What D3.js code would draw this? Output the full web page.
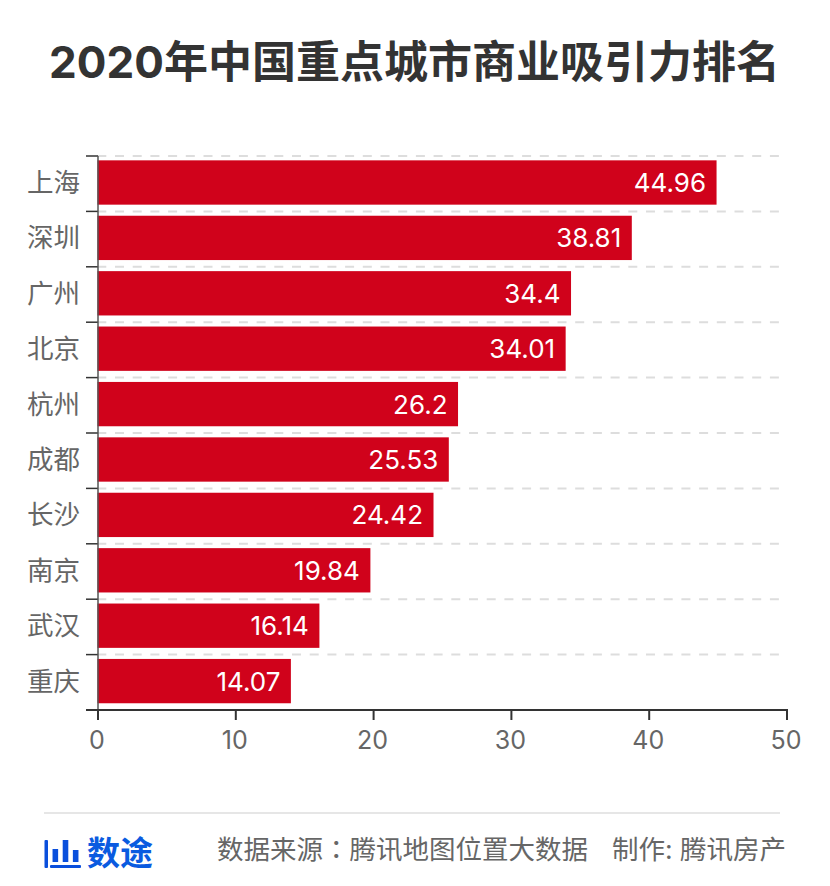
<!DOCTYPE html>
<html>
<head>
<meta charset="utf-8">
<title>2020年中国重点城市商业吸引力排名</title>
<script src="https://cdnjs.cloudflare.com/ajax/libs/d3/7.8.5/d3.min.js"></script>
<style>
html, body { margin: 0; padding: 0; background: #fff; }
text { font-family: Inter, "Noto Sans CJK SC", sans-serif; }
</style>
</head>
<body>
<svg id="chart" width="830" height="886"></svg>
<script>
var cities = ["上海", "深圳", "广州", "北京", "杭州", "成都", "长沙", "南京", "武汉", "重庆"];
var scores = [44.96, 38.81, 34.4, 34.01, 26.2, 25.53, 24.42, 19.84, 16.14, 14.07];
var xTicks = [0, 10, 20, 30, 40, 50];
var logoBars = [13, 22, 12];

var svg = d3.select("#chart");
var left = 98, right = 787, top_ = 156, bottom = 710;

var x = d3.scaleLinear().domain([0, 50]).range([left, right]);
// bars sit about 1px above the centre of each band
var y = d3.scaleBand().domain(cities).range([top_ - 1.2, bottom - 1.2]).paddingInner(0.2).paddingOuter(0.1);

svg.append("text").attr("x", 414.5).attr("y", 78)
  .attr("text-anchor", "middle")
  .attr("font-size", 44).attr("font-weight", 700).attr("fill", "#333")
  .text("2020年中国重点城市商业吸引力排名");

// dashed lines at each band edge
var step = y.step();
cities.forEach(function(c, i) {
  var yy = top_ + i * step;
  svg.append("line").attr("x1", 97.3).attr("x2", 779).attr("y1", yy).attr("y2", yy)
    .attr("stroke", "#ddd").attr("stroke-width", 2).attr("stroke-dasharray", "9 8.7");
  svg.append("line").attr("x1", 86).attr("x2", left).attr("y1", yy).attr("y2", yy)
    .attr("stroke", "#333").attr("stroke-width", 1.5);
});

svg.selectAll("rect.bar").data(cities).enter().append("rect")
  .attr("class", "bar")
  .attr("x", left - 0.5)
  .attr("y", function(d) { return y(d); })
  .attr("width", function(d, i) { return x(scores[i]) - left - 0.5; })
  .attr("height", y.bandwidth())
  .attr("fill", "#d0021b");

svg.selectAll("text.val").data(cities).enter().append("text")
  .attr("class", "val")
  .attr("x", function(d, i) { return x(scores[i]) - 11.5; })
  .attr("y", function(d) { return y(d) + y.bandwidth() / 2 + 9.5; })
  .attr("text-anchor", "end")
  .attr("font-size", 26).attr("fill", "#fff")
  .text(function(d, i) { return scores[i]; });

svg.selectAll("text.cat").data(cities).enter().append("text")
  .attr("class", "cat")
  .attr("x", 80)
  .attr("y", function(d) { return y(d) + y.bandwidth() / 2 + 9.5; })
  .attr("text-anchor", "end")
  .attr("font-size", 26.5).attr("fill", "#666")
  .text(function(d) { return d; });

// axis lines
svg.append("line").attr("x1", left).attr("x2", left).attr("y1", top_).attr("y2", bottom + 10)
  .attr("stroke", "#555").attr("stroke-width", 1.5);
svg.append("line").attr("x1", 86).attr("x2", right + 1).attr("y1", bottom).attr("y2", bottom)
  .attr("stroke", "#333").attr("stroke-width", 2);

xTicks.forEach(function(t) {
  svg.append("line").attr("x1", x(t)).attr("x2", x(t)).attr("y1", bottom).attr("y2", bottom + 10)
    .attr("stroke", "#333").attr("stroke-width", 2);
  svg.append("text").attr("x", x(t) - 1).attr("y", 749)
    .attr("text-anchor", "middle").attr("font-size", 25).attr("fill", "#666")
    .text(t);
});

// footer
svg.append("line").attr("x1", 44).attr("x2", 780).attr("y1", 813).attr("y2", 813)
  .attr("stroke", "#e6e6e6").attr("stroke-width", 2);

var logoX = d3.scaleBand().domain(d3.range(logoBars.length)).range([50, 81]).paddingInner(0.45).paddingOuter(0.25);
var logoH = d3.scaleLinear().domain([0, 22]).range([0, 22]);
svg.append("rect").attr("x", 44.5).attr("y", 840).attr("width", 3.5).attr("height", 28).attr("rx", 1).attr("fill", "#0a4fdc");
svg.append("rect").attr("x", 50).attr("y", 865).attr("width", 31).attr("height", 3).attr("rx", 1).attr("fill", "#0a4fdc");
svg.selectAll("rect.logo").data(logoBars).enter().append("rect")
  .attr("class", "logo")
  .attr("x", function(d, i) { return logoX(i); })
  .attr("y", function(d) { return 862 - logoH(d); })
  .attr("width", logoX.bandwidth())
  .attr("height", function(d) { return logoH(d); })
  .attr("fill", "#0a4fdc");

svg.append("text").attr("x", 87).attr("y", 865)
  .attr("font-size", 33).attr("font-weight", 700).attr("fill", "#0a5be0")
  .text("数途");
var source = svg.append("text").attr("x", 217).attr("y", 858.5)
  .attr("font-size", 26.5).attr("fill", "#666");
source.append("tspan").text("数据来源");
source.append("tspan").style("font-family", '"Noto Sans CJK TC"').text("：");
source.append("tspan").text("腾讯地图位置大数据");
svg.append("text").attr("x", 786).attr("y", 858.5)
  .attr("text-anchor", "end").attr("font-size", 26.5).attr("fill", "#666")
  .text("制作: 腾讯房产");
</script>
</body>
</html>
